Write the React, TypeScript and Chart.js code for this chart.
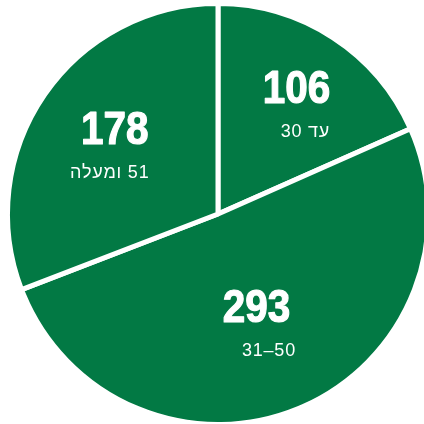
import React, { useEffect, useRef } from "react";
import { Chart, registerables } from "chart.js";

Chart.register(...registerables);

const categories = ["עד 30", "31–50", "51 ומעלה"];
const values = [106, 293, 178];

const GREEN = "rgb(2,121,68)";
// label placement style: radial fraction of radius, angle offset (deg), subtitle x shift
const labelStyle = [
  { frac: 0.71, angle: -1, subDx: 9 },
  { frac: 0.49, angle: 0.3, subDx: 12.5 },
  { frac: 0.64, angle: 4.7, subDx: -5 },
];

const labelPlugin = {
  id: "sliceLabels",
  afterDatasetsDraw(chart: any) {
    const ctx = chart.ctx;
    const meta = chart.getDatasetMeta(0);
    meta.data.forEach((arc: any, i: number) => {
      const st = labelStyle[i];
      const mid = (arc.startAngle + arc.endAngle) / 2 + (st.angle * Math.PI) / 180;
      const r = (arc.outerRadius - 2.5) * st.frac;
      const x = arc.x + Math.cos(mid) * r;
      const y = arc.y + Math.sin(mid) * r;
      ctx.save();
      ctx.fillStyle = "#ffffff";
      ctx.strokeStyle = "#ffffff";
      ctx.textAlign = "center";
      ctx.textBaseline = "middle";
      ctx.save();
      ctx.translate(x, y + 1);
      ctx.scale(0.88, 1);
      ctx.font = 'bold 46px "Liberation Sans", Arial, sans-serif';
      ctx.lineWidth = 1.2;
      ctx.lineJoin = "round";
      ctx.fillText(String(values[i]), 0, 0);
      ctx.strokeText(String(values[i]), 0, 0);
      ctx.restore();
      ctx.font = '18px "Liberation Sans", Arial, sans-serif';
      try {
        (ctx as any).letterSpacing = "0.8px";
      } catch (e) {}
      ctx.direction = /[\u0590-\u05FF]/.test(categories[i]) ? "rtl" : "ltr";
      ctx.fillText(categories[i], x + st.subDx, y + 43);
      ctx.restore();
    });
  },
};

export default function App() {
  const ref = useRef<HTMLCanvasElement | null>(null);
  useEffect(() => {
    if (!ref.current) return;
    const chart = new Chart(ref.current, {
      type: "pie",
      data: {
        labels: categories,
        datasets: [
          {
            data: values,
            backgroundColor: GREEN,
            borderColor: "#ffffff",
            borderWidth: 5,
          },
        ],
      },
      options: {
        animation: false,
        responsive: true,
        maintainAspectRatio: false,
        radius: 210.5,
        layout: { padding: { left: 0, right: 4, top: 4, bottom: 0 } },
        plugins: {
          legend: { display: false },
          tooltip: { enabled: false },
        },
      },
      plugins: [labelPlugin],
    } as any);
    return () => chart.destroy();
  }, []);
  return (
    <div
      style={{
        position: "fixed",
        left: 0,
        top: 0,
        width: 424,
        height: 424,
        overflow: "hidden",
        background: "#ffffff",
      }}
    >
      <div style={{ position: "relative", width: 440, height: 424 }}>
        <canvas ref={ref} />
      </div>
    </div>
  );
}
